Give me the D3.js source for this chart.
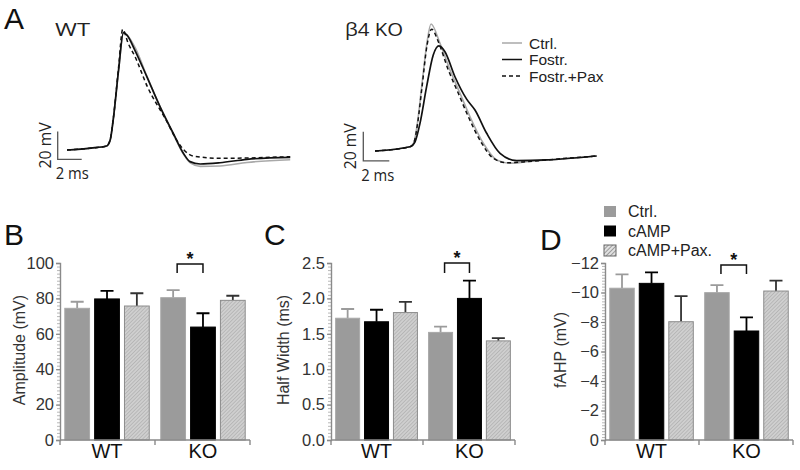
<!DOCTYPE html>
<html><head><meta charset="utf-8">
<script src="https://cdn.jsdelivr.net/npm/d3@7/dist/d3.min.js"></script>
<style>
body{margin:0;background:#fff;}
svg text{font-family:"Liberation Sans",Arial,sans-serif;}
</style></head>
<body><svg id="c" width="800" height="470"></svg>
<script>
// ---------- DATA ----------
const traceLegend = ["Ctrl.", "Fostr.", "Fostr.+Pax"];
// WT traces (time ms, voltage mV)
const wtCtrlT = [0, 2, 3.3, 3.6, 3.85, 4.3, 4.7, 5.0, 5.7, 6.65, 7.75, 8.85, 9.7, 10.3, 11.1, 12.75, 15, 18.6];
const wtCtrlV = [-60, -58.6, -57.1, -52.8, -38.3, -2.2, 24.2, 23.0, 13.5, -6.5, -28.7, -48.5, -63, -69.5, -71.8, -71.5, -69, -67];
const wtFostrT = [0, 2, 3.3, 3.6, 3.85, 4.3, 4.7, 5.0, 5.65, 6.65, 7.75, 8.85, 9.7, 10.25, 11.1, 12.75, 15, 18.6];
const wtFostrV = [-60, -58.6, -57.1, -52.8, -38.3, -2.2, 24.7, 23.0, 12.2, -7.0, -28.7, -47.9, -62.4, -68.4, -70.1, -69.2, -66.7, -65.3];
const wtPaxT = [0, 2, 3.3, 3.6, 3.85, 4.3, 4.64, 5.1, 5.67, 6.7, 8.25, 9.14, 9.75, 10.5, 12.75, 18.6];
const wtPaxV = [-60, -58.6, -57.1, -52.5, -38, 0, 27.1, 17.0, 7.4, -14.3, -38.3, -52.8, -60, -64.3, -66.0, -64.8];
// beta4 KO traces
const koCtrlT = [0, 2.69, 3.0, 3.26, 3.59, 4.0, 4.31, 5.0, 5.77, 6.54, 7.31, 8.33, 9.36, 10.4, 11.67, 13.2, 17.05];
const koCtrlV = [-60, -57.1, -54, -41.1, -16.1, 14, 26.7, 13.5, -4.7, -20.6, -36.6, -54.7, -66.1, -68.4, -67.3, -66.1, -63.4];
const koFostrT = [0, 2.69, 3.08, 3.46, 3.97, 4.48, 4.92, 5.38, 6.15, 7.05, 7.69, 8.59, 9.62, 10.9, 13.2, 17.05];
const koFostrV = [-60, -57.1, -53.7, -41.1, -16.1, 5.5, 11.7, 7.8, -9.3, -24.6, -32.0, -47.9, -61.6, -66.6, -66.1, -63.4];
const koPaxT = [0, 2.69, 3.0, 3.28, 3.62, 4.0, 4.36, 4.87, 5.64, 6.41, 7.18, 8.21, 9.1, 10.13, 11.67, 13.2, 17.05];
const koPaxV = [-60, -57.1, -54, -41.1, -16.1, 12, 23.1, 14.6, -4.7, -20.6, -36.6, -54.7, -65, -68, -67.3, -66.1, -63.4];

const groups = ["WT", "KO"];
const conditions = ["Ctrl.", "cAMP", "cAMP+Pax."];
const amplitude    = [74.4, 79.7, 75.7, 80.4, 63.8, 78.9];
const amplitudeErr = [3.7, 4.5, 7.2, 4.3, 7.8, 2.6];
const halfWidth    = [1.72, 1.67, 1.80, 1.52, 2.00, 1.40];
const halfWidthErr = [0.13, 0.17, 0.15, 0.08, 0.25, 0.04];
const fahp         = [-10.29, -10.62, -8.02, -9.99, -7.39, -10.1];
const fahpErr      = [0.94, 0.75, 1.74, 0.51, 0.93, 0.7];
const ampTicks = [0, 20, 40, 60, 80, 100];
const hwTicks = [0, 0.5, 1.0, 1.5, 2.0, 2.5];
const fahpTicks = [0, -2, -4, -6, -8, -10, -12];

// ---------- DRAW ----------
const svg = d3.select("#c");
const defs = svg.append("defs");
const pat = defs.append("pattern").attr("id", "hatch").attr("patternUnits", "userSpaceOnUse")
  .attr("width", 2.6).attr("height", 2.6).attr("patternTransform", "rotate(45)");
pat.append("rect").attr("width", 2.6).attr("height", 2.6).attr("fill", "#cfcfcf");
pat.append("line").attr("x1", 0).attr("y1", 0).attr("x2", 0).attr("y2", 2.6).attr("stroke", "#a2a2a2").attr("stroke-width", 1);
const pat2 = defs.append("pattern").attr("id", "hatchL").attr("patternUnits", "userSpaceOnUse")
  .attr("width", 3).attr("height", 3).attr("patternTransform", "rotate(45)");
pat2.append("rect").attr("width", 3).attr("height", 3).attr("fill", "#e2e2e2");
pat2.append("line").attr("x1", 0).attr("y1", 0).attr("x2", 0).attr("y2", 3).attr("stroke", "#555").attr("stroke-width", 1);

const condFill = ["#9b9b9b", "#000", "url(#hatch)"];
const condStroke = ["#a8a8a8", "#000", "#8c8c8c"];
const errColor = ["#9b9b9b", "#000", "#333"];

// Panel labels
[["A", 4, 29], ["B", 4, 245], ["C", 264, 245], ["D", 540, 250]].forEach(([t, x, y]) =>
  svg.append("text").attr("x", x).attr("y", y).attr("font-size", 30).attr("fill", "#111").text(t));

// ---- Panel A traces ----
function tracePanel(cfg) {
  const x = d3.scaleLinear().domain([0, 1]).range([cfg.x0, cfg.x0 + cfg.pxPerMs]);
  const y = d3.scaleLinear().domain([-60, -40]).range([cfg.y0, cfg.y0 - cfg.px20]);
  const line = d3.line().x(d => x(d[0])).y(d => y(d[1])).curve(d3.curveMonotoneX);
  const g = svg.append("g");
  const styles = [
    {stroke: "#a9a9a9", w: 1.6, dash: null},
    {stroke: "#111", w: 1.7, dash: null},
    {stroke: "#111", w: 1.5, dash: "4,3"}
  ];
  cfg.traces.forEach((tr, i) => {
    g.append("path").datum(d3.zip(tr[0], tr[1])).attr("d", line)
      .attr("fill", "none").attr("stroke", styles[i].stroke).attr("stroke-width", styles[i].w)
      .attr("stroke-dasharray", styles[i].dash);
  });
  // scale bar 20 mV / 2 ms
  const sbT = cfg.sbT, sbV = cfg.sbV;
  g.append("path").attr("d", `M${x(sbT)},${y(sbV + 20)}V${y(sbV)}H${x(sbT + 2)}`)
    .attr("fill", "none").attr("stroke", "#555").attr("stroke-width", 1.3);
  g.append("text").attr("transform", `translate(${x(sbT) - 7},${(y(sbV) + y(sbV + 20)) / 2}) rotate(-90)`)
    .attr("text-anchor", "middle").attr("font-size", 16).attr("fill", "#222")
    .attr("textLength", 46).attr("lengthAdjust", "spacingAndGlyphs")
    .style("font-family", "'Open Sans',sans-serif").text("20 mV");
  g.append("text").attr("x", x(sbT) - 2).attr("y", y(sbV) + 20).attr("font-size", 16).attr("fill", "#222")
    .attr("textLength", 33).attr("lengthAdjust", "spacingAndGlyphs")
    .style("font-family", "'Open Sans',sans-serif").text("2 ms");
  g.append("text").attr("x", cfg.titleX).attr("y", 36).attr("font-size", 19).attr("fill", "#222")
    .attr("textLength", cfg.titleLen).attr("lengthAdjust", "spacingAndGlyphs")
    .style("font-family", "'Open Sans',sans-serif").text(cfg.title);
  return {x, y};
}
tracePanel({x0: 67, pxPerMs: 12, y0: 150, px20: 27.7, sbT: -0.775, sbV: -66.7, title: "WT", titleX: 55, titleLen: 35,
  traces: [[wtCtrlT, wtCtrlV], [wtFostrT, wtFostrV], [wtPaxT, wtPaxV]]});
tracePanel({x0: 375, pxPerMs: 13, y0: 151, px20: 29.3, sbT: -0.9, sbV: -66.8, title: "β4 KO", titleX: 345, titleLen: 58,
  traces: [[koCtrlT, koCtrlV], [koFostrT, koFostrV], [koPaxT, koPaxV]]});

// trace legend
const tl = svg.append("g");
traceLegend.forEach((t, i) => {
  const yy = 43 + i * 16.5;
  tl.append("line").attr("x1", 502).attr("x2", 522).attr("y1", yy).attr("y2", yy)
    .attr("stroke", i === 0 ? "#a9a9a9" : "#111").attr("stroke-width", 1.5)
    .attr("stroke-dasharray", i === 2 ? "4,3" : null);
  tl.append("text").attr("x", 529).attr("y", yy + 5.5).attr("font-size", 15.5).attr("fill", "#222").text(t);
});

// ---- Bar panels ----
function barPanel(cfg) {
  const g = svg.append("g");
  const x0 = d3.scaleBand().domain(groups).range([cfg.xl, cfg.xr]).paddingInner(0.12).paddingOuter(0.05);
  const x1 = d3.scaleBand().domain(conditions).range([0, x0.bandwidth()]).paddingInner(0.17);
  const y = d3.scaleLinear().domain(cfg.domain).range([440, 263]);
  const rows = [];
  groups.forEach((gr, gi) => conditions.forEach((c, ci) => {
    rows.push({g: gr, c: c, ci: ci, v: cfg.vals[gi * 3 + ci], e: cfg.errs[gi * 3 + ci]});
  }));
  const sgn = cfg.domain[1] < 0 ? -1 : 1;
  // error bars
  rows.forEach(d => {
    const cx = x0(d.g) + x1(d.c) + x1.bandwidth() / 2;
    g.append("path").attr("d", `M${cx},${y(d.v)}V${y(d.v + sgn * d.e)}M${cx - 6.5},${y(d.v + sgn * d.e)}H${cx + 6.5}`)
      .attr("stroke", errColor[d.ci]).attr("stroke-width", 1.8).attr("fill", "none");
  });
  // bars
  g.selectAll(".bar").data(rows).join("rect")
    .attr("x", d => x0(d.g) + x1(d.c)).attr("width", x1.bandwidth())
    .attr("y", d => y(d.v)).attr("height", d => y(0) - y(d.v))
    .attr("fill", d => condFill[d.ci]).attr("stroke", d => condStroke[d.ci]).attr("stroke-width", 1);
  // y axis with minor ticks
  const minor = d3.range(0, cfg.minorN + 1).map(i => cfg.domain[0] + (cfg.domain[1] - cfg.domain[0]) * i / cfg.minorN);
  const ya = g.append("g").attr("transform", `translate(${cfg.xl},0)`);
  ya.call(d3.axisLeft(y).tickValues(minor).tickSize(3).tickFormat(""));
  ya.call(g2 => g2.selectAll("line").attr("stroke", "#9a9a9a").attr("stroke-width", 0.7));
  const yb = g.append("g").attr("transform", `translate(${cfg.xl},0)`)
    .call(d3.axisLeft(y).tickValues(cfg.ticks).tickSize(4).tickPadding(2).tickFormat(cfg.fmt));
  yb.selectAll("line").attr("stroke", "#8a8a8a").attr("stroke-width", 1.2);
  yb.select(".domain").attr("stroke", "#8a8a8a").attr("stroke-width", 1.4);
  yb.selectAll("text").attr("font-size", 16.5).attr("fill", "#333").style("font-family", "'Liberation Sans',Arial,sans-serif");
  ya.select(".domain").remove();
  // x axis
  const mid = (x0("WT") + x0.bandwidth() + x0("KO")) / 2;
  g.append("path").attr("d", `M${cfg.xl},440H${cfg.xr}M${cfg.xl},440v5M${mid},440v5M${cfg.xr},440v5`)
    .attr("stroke", "#8a8a8a").attr("stroke-width", 1.4).attr("fill", "none");
  groups.forEach(gr => g.append("text").attr("x", x0(gr) + x0.bandwidth() / 2 + cfg.lblDx).attr("y", 458)
    .attr("text-anchor", "middle").attr("font-size", 20).attr("fill", "#111").text(gr));
  // y title
  g.append("text").attr("transform", `translate(${cfg.titleX},${350}) rotate(-90)`)
    .attr("text-anchor", "middle").attr("font-size", 16).attr("fill", "#333").text(cfg.title);
  // significance bracket: KO Ctrl vs KO cAMP
  const bx1 = x0("KO") + x1("Ctrl.") + x1.bandwidth() / 2 + 4;
  const bx2 = x0("KO") + x1("cAMP") + x1.bandwidth() / 2;
  g.append("path").attr("d", `M${bx1},${cfg.bracketBot}V${cfg.bracketTop}H${bx2}V${cfg.bracketBot}`)
    .attr("stroke", "#111").attr("stroke-width", 1.5).attr("fill", "none");
  g.append("text").attr("x", (bx1 + bx2) / 2).attr("y", cfg.bracketTop + 1).attr("text-anchor", "middle")
    .attr("font-size", 18).attr("font-weight", "bold").attr("fill", "#111").text("*");
}
barPanel({xl: 60, xr: 250, domain: [0, 100], vals: amplitude, errs: amplitudeErr, ticks: ampTicks, fmt: d3.format("d"),
  minorN: 50, title: "Amplitude (mV)", titleX: 25, bracketTop: 264, bracketBot: 273, lblDx: 0});
barPanel({xl: 331, xr: 515, domain: [0, 2.5], vals: halfWidth, errs: halfWidthErr, ticks: hwTicks, fmt: d3.format(".1f"),
  minorN: 50, title: "Half Width (ms)", titleX: 289, bracketTop: 263, bracketBot: 273, lblDx: 0});
barPanel({xl: 605, xr: 793, domain: [0, -12], vals: fahp, errs: fahpErr, ticks: fahpTicks, fmt: d3.format("d"),
  minorN: 60, title: "fAHP (mV)", titleX: 566, bracketTop: 265, bracketBot: 274, lblDx: 0});

// legend for D
const lg = svg.append("g");
conditions.forEach((c, i) => {
  const yy = 206 + i * 19.5;
  lg.append("rect").attr("x", 604).attr("y", yy).attr("width", 12).attr("height", 11)
    .attr("fill", i === 2 ? "url(#hatchL)" : condFill[i]).attr("stroke", i === 2 ? "#666" : "none");
  lg.append("text").attr("x", 628).attr("y", yy + 11).attr("font-size", 16).attr("fill", "#222").text(c);
});
</script></body></html>
